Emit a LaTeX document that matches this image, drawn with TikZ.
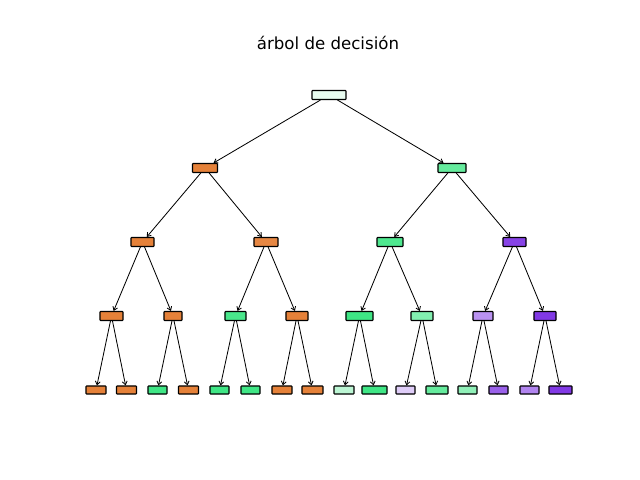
\documentclass[tikz,border=0pt]{standalone}
\usepackage{fontspec}
\setmainfont{DejaVu Sans}
\usetikzlibrary{arrows.meta}

\definecolor{naranja}{HTML}{E58139}
\definecolor{verde}{HTML}{3FE685}
\definecolor{morado}{HTML}{8139E5}

\begin{document}
\begin{tikzpicture}[
                    x=0.01in, y=-0.01in,
                    ->, >={Straight Barb[length=2.5pt,width=3.5pt]},
                    semithick,
                    caja/.style={draw, line width=0.75pt, rounded corners=0.4pt, inner sep=0pt,
                                 minimum height=.09in, minimum width=.21in}
                ]
                \useasboundingbox (0,0) rectangle (640,480);

                \node (titulo) at (328,43) [font=\fontsize{12}{14}\selectfont] {árbol de decisión} ;

                % raiz y primer nivel
                \node (T) at (329,95) [caja, minimum width=.34in, fill=verde!12] {} ;
                \node (T0) at (205,168) [caja, minimum width=.25in, fill=naranja] {} ;
                \node (T1) at (452,168) [caja, minimum width=.28in, fill=verde!80] {} ;

                % segundo nivel
                \node (T00) at (142.5,242) [caja, minimum width=.23in, fill=naranja] {} ;
                \node (T01) at (266,242) [caja, minimum width=.24in, fill=naranja!95] {} ;
                \node (T10) at (390,242) [caja, minimum width=.26in, fill=verde!92] {} ;
                \node (T11) at (514.5,242) [caja, minimum width=.23in, fill=morado!95] {} ;

                % tercer nivel
                \node (T000) at (111.5,316) [caja, minimum width=.23in, fill=naranja] {} ;
                \node (T001) at (173,316) [caja, minimum width=.18in, fill=naranja] {} ;
                \node (T010) at (235.5,316) [caja, fill=verde!95] {} ;
                \node (T011) at (297,316) [caja, minimum width=.22in, fill=naranja] {} ;
                \node (T100) at (359.5,316) [caja, minimum width=.27in, fill=verde] {} ;
                \node (T101) at (422,316) [caja, minimum width=.22in, fill=verde!65] {} ;
                \node (T110) at (483,316) [caja, minimum width=.20in, fill=morado!55] {} ;
                \node (T111) at (545,316) [caja, minimum width=.22in, fill=morado] {} ;

                % hojas
                \begin{scope}[caja/.append style={minimum height=.08in, minimum width=.20in}]
                    \node (T0000) at (96,390) [caja, fill=naranja] {} ;
                    \node (T0001) at (126.5,390) [caja, fill=naranja] {} ;
                    \node (T0010) at (157.5,390) [caja, minimum width=.19in, fill=verde] {} ;
                    \node (T0011) at (188.5,390) [caja, fill=naranja] {} ;
                    \node (T0100) at (219.5,390) [caja, minimum width=.19in, fill=verde] {} ;
                    \node (T0101) at (250.5,390) [caja, minimum width=.19in, fill=verde] {} ;
                    \node (T0110) at (282,390) [caja, fill=naranja] {} ;
                    \node (T0111) at (312.5,390) [caja, minimum width=.21in, fill=naranja] {} ;
                    \node (T1000) at (344,390) [caja, fill=verde!35] {} ;
                    \node (T1001) at (374.5,390) [caja, minimum width=.25in, fill=verde] {} ;
                    \node (T1010) at (405.5,390) [caja, minimum width=.19in, fill=morado!25] {} ;
                    \node (T1011) at (437,390) [caja, minimum width=.22in, fill=verde!80] {} ;
                    \node (T1100) at (467.5,390) [caja, minimum width=.19in, fill=verde!58] {} ;
                    \node (T1101) at (498.5,390) [caja, minimum width=.19in, fill=morado!80] {} ;
                    \node (T1110) at (529.5,390) [caja, minimum width=.19in, fill=morado!62] {} ;
                    \node (T1111) at (560.5,390) [caja, minimum width=.23in, fill=morado] {} ;
                \end{scope}

                \path
                (T) edge (T0)
                (T) edge (T1)
                (T0) edge (T00)
                (T0) edge (T01)
                (T1) edge (T10)
                (T1) edge (T11)
                (T00) edge (T000)
                (T00) edge (T001)
                (T01) edge (T010)
                (T01) edge (T011)
                (T10) edge (T100)
                (T10) edge (T101)
                (T11) edge (T110)
                (T11) edge (T111)
                (T000) edge (T0000)
                (T000) edge (T0001)
                (T001) edge (T0010)
                (T001) edge (T0011)
                (T010) edge (T0100)
                (T010) edge (T0101)
                (T011) edge (T0110)
                (T011) edge (T0111)
                (T100) edge (T1000)
                (T100) edge (T1001)
                (T101) edge (T1010)
                (T101) edge (T1011)
                (T110) edge (T1100)
                (T110) edge (T1101)
                (T111) edge (T1110)
                (T111) edge (T1111)
                ;
            \end{tikzpicture}
\end{document}
